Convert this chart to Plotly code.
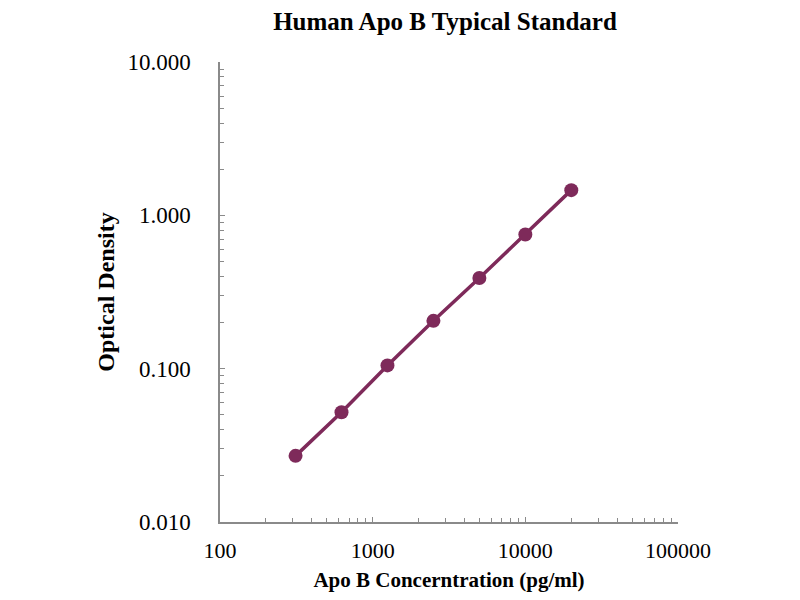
import plotly.graph_objects as go

concentration = [312.5, 625, 1250, 2500, 5000, 10000, 20000]
optical_density = [0.027, 0.052, 0.105, 0.205, 0.39, 0.75, 1.46]

x_ticks = [100, 1000, 10000, 100000]
x_tick_labels = ["100", "1000", "10000", "100000"]
y_ticks = [0.01, 0.1, 1, 10]
y_tick_labels = ["0.010", "0.100", "1.000", "10.000"]

color = "#7E2A5A"
axis_color = "#8a8a8a"
font_family = "Liberation Serif"

fig = go.Figure(
    go.Scatter(
        x=concentration,
        y=optical_density,
        mode="lines+markers",
        line=dict(color=color, width=3.5),
        marker=dict(color=color, size=14),
        showlegend=False,
    )
)

fig.update_layout(
    width=800,
    height=600,
    margin=dict(l=212, r=130, t=54, b=86),
    paper_bgcolor="white",
    plot_bgcolor="white",
    font=dict(family=font_family, color="black", size=22),
    title=dict(
        text="<b>Human Apo B Typical Standard</b>",
        x=437 / 800,
        xanchor="center",
        y=1 - 4 / 600,
        yanchor="top",
        pad=dict(t=0, b=0, l=0, r=0),
        font=dict(size=25, family=font_family, color="black"),
    ),
)

fig.update_xaxes(
    type="log",
    range=[2, 5],
    tickvals=x_ticks,
    ticktext=x_tick_labels,
    ticks="inside",
    ticklen=5,
    tickcolor=axis_color,
    showline=True,
    linecolor=axis_color,
    linewidth=1.5,
    showgrid=False,
    zeroline=False,
    ticklabelstandoff=8,
    tickfont=dict(size=22),
    minor=dict(ticks="inside", ticklen=4, tickcolor=axis_color, dtick="D1", showgrid=False),
    title=dict(text="<b>Apo B Concerntration (pg/ml)</b>", font=dict(size=21), standoff=10),
)

fig.update_yaxes(
    type="log",
    range=[-2, 1],
    tickvals=y_ticks,
    ticktext=y_tick_labels,
    ticks="inside",
    ticklen=5,
    tickcolor=axis_color,
    showline=True,
    linecolor=axis_color,
    linewidth=1.5,
    showgrid=False,
    zeroline=False,
    ticklabelstandoff=23,
    tickfont=dict(size=23),
    minor=dict(ticks="inside", ticklen=4, tickcolor=axis_color, dtick="D1", showgrid=False),
    title=dict(text="<b>Optical Density</b>", font=dict(size=24), standoff=6),
)

fig.write_html("out.html")
